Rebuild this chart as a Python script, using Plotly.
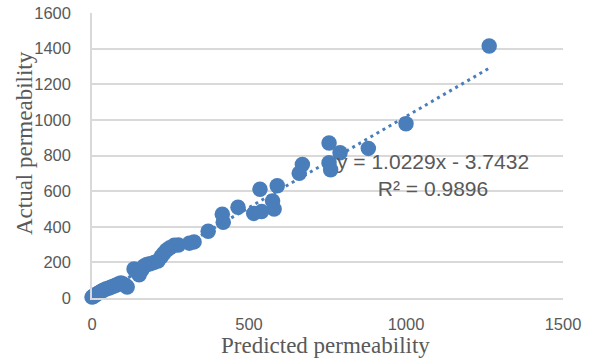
import plotly.graph_objects as go

# Predicted vs. actual permeability samples
predicted = [
    0, 4, 8, 13, 18, 24, 30, 36, 44, 52, 60, 68, 76, 84, 92, 100, 107, 112,
    134, 142, 150, 158, 166, 175, 185, 198, 210, 220, 228, 237, 248, 262, 275,
    310, 325, 370, 415, 418, 465, 515, 540, 535, 575, 580, 590,
    660, 670, 755, 755, 760, 790, 880, 1000, 1265,
]
actual = [
    5, 8, 14, 20, 25, 31, 38, 44, 50, 55, 60, 66, 72, 78, 84, 78, 70, 62,
    163, 150, 130, 155, 180, 188, 192, 200, 208, 232, 250, 268, 282, 296, 298,
    308, 315, 375, 470, 425, 510, 475, 485, 610, 545, 500, 630,
    700, 750, 870, 760, 720, 815, 840, 978, 1415,
]

slope = 1.0229
intercept = -3.7432
trend_x = [min(predicted), max(predicted)]
trend_y = [slope * v + intercept for v in trend_x]

blue = "#4a7ebb"
grey_text = "#595959"
grid = "#d9d9d9"

fig = go.Figure()
fig.add_trace(go.Scatter(
    x=predicted, y=actual, mode="markers",
    marker=dict(size=15.5, color=blue, line=dict(width=0)),
    cliponaxis=False, showlegend=False,
))
fig.add_trace(go.Scatter(
    x=trend_x, y=trend_y, mode="lines",
    line=dict(color=blue, width=3, dash="3px,4px"),
    cliponaxis=False, showlegend=False,
))

fig.add_annotation(
    x=1085, y=690, xref="x", yref="y",
    text="y = 1.0229x - 3.7432<br>R² = 0.9896",
    showarrow=False, align="center",
    font=dict(family="Liberation Sans, Arial", size=21, color=grey_text),
)
fig.add_annotation(
    x=0.496, y=-0.165, xref="paper", yref="paper",
    text="Predicted permeability", showarrow=False,
    xanchor="center", yanchor="middle",
    font=dict(family="Liberation Serif, Times New Roman", size=23, color=grey_text),
)
fig.add_annotation(
    x=-0.142, y=0.544, xref="paper", yref="paper",
    text="Actual permeability", showarrow=False, textangle=-90,
    xanchor="center", yanchor="middle",
    font=dict(family="Liberation Serif, Times New Roman", size=23, color=grey_text),
)

tick_font = dict(family="Liberation Sans, Arial", size=16.5, color=grey_text)
fig.update_xaxes(
    range=[0, 1500], tickvals=[0, 500, 1000, 1500], showgrid=False,
    showline=True, linecolor=grid, linewidth=1.5, zeroline=False,
    tickfont=tick_font, ticks="", ticklabelstandoff=10, automargin=False,
)
fig.update_yaxes(
    range=[0, 1600], tickvals=list(range(0, 1601, 200)),
    showgrid=True, gridcolor=grid, gridwidth=1.5,
    showline=True, linecolor=grid, linewidth=1.5, zeroline=False,
    tickfont=tick_font, ticks="", ticklabelstandoff=16, automargin=False,
)
fig.update_layout(
    width=589, height=360,
    margin=dict(l=92, r=26, t=13, b=62),
    paper_bgcolor="white", plot_bgcolor="white",
)

fig.write_html("out.html")
